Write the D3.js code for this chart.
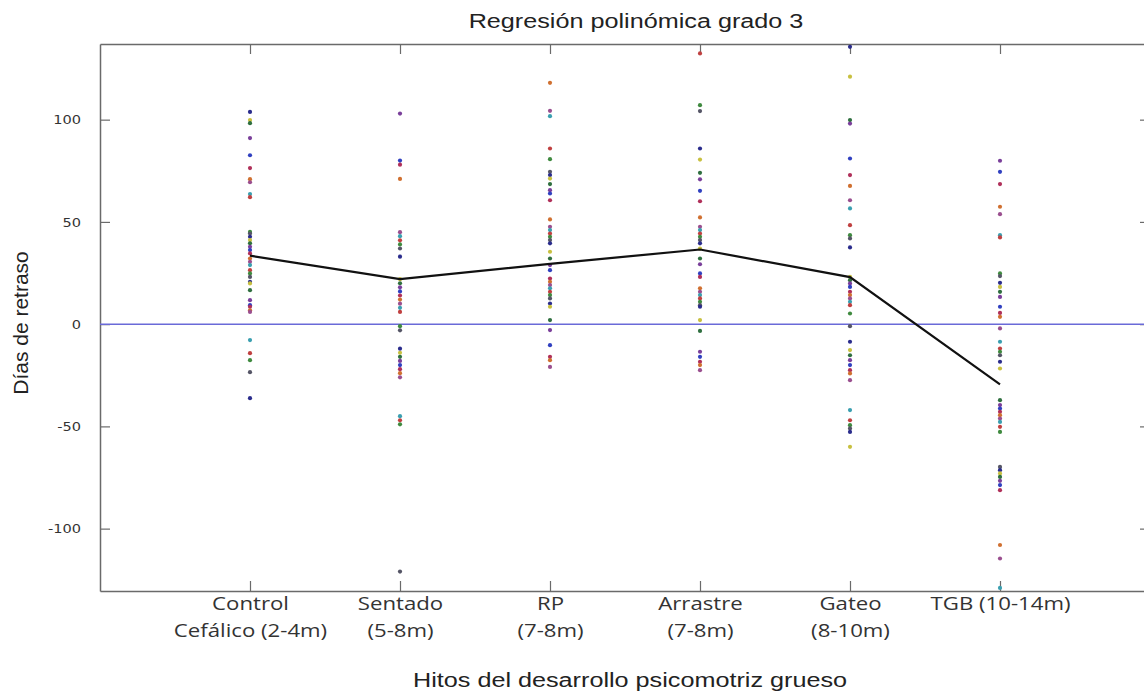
<!DOCTYPE html>
<html><head><meta charset="utf-8">
<script src="https://cdn.jsdelivr.net/npm/d3@7"></script>
<style>body{margin:0;background:#fff}svg{display:block}</style>
</head><body>
<svg id="chart" width="1144" height="696"></svg>
<script>
// ---- data ----
const categories = ["Control|Cefálico (2-4m)", "Sentado|(5-8m)", "RP|(7-8m)", "Arrastre|(7-8m)", "Gateo|(8-10m)", "TGB (10-14m)"];
const controlVals = [103.8,99.8,98.3,91,82.6,76.3,70.9,69.4,63.6,62.1,45.1,44.3,42.7,41.1,39.5,37.8,36.2,34.6,32.1,30.5,28.9,26.4,24.8,23.1,20.7,19.9,16.6,11.7,9.3,8.5,6.8,6.0,-7.8,-14.2,-17.6,-23.5,-36.2];
const sentadoVals = [103,80,78,71,45,43,41,39,37,33,22,20,18,16,14,12,10,8,6,-1,-3,-12,-14,-16,-18,-20,-22,-24,-26,-45,-47,-49,-121];
const rpVals = [118,104.3,101.7,85.9,80.7,74.5,72.9,71.2,68.5,65.5,63.9,60.6,51.2,47.6,46,44.3,42.7,41.1,39.5,35.4,32.1,28.9,26.4,22.3,20.7,19.1,17.5,15.8,14.2,12.6,10.1,8.5,2,-2.9,-10.3,-16,-17.6,-20.9];
const arrastreVals = [132.4,107.1,104.2,85.9,80.5,74,70.8,65.2,60.1,52.2,47.6,46,44.3,42.7,41.1,39.5,37,32.1,29.3,24.8,23.1,17.5,15.8,14.2,12.6,10.9,9.3,8.5,2,-3.3,-13.5,-16,-18.4,-20,-22.5];
const gateoVals = [135.6,121,99.8,98.1,81,72.9,67.6,60.6,56.6,48.4,43.5,41.9,37.5,23.1,21.5,19.9,18.2,15.8,14.2,12.6,10.9,9.3,5.2,-1,-8.6,-12.7,-15.2,-17.6,-20,-22.5,-24.1,-27.4,-42,-47,-49.4,-51,-52.7,-60];
const tgbVals = [79.9,74.5,68.5,57.4,53.8,43.5,42.4,24.8,23.5,20.2,18.2,15.8,13.3,8.5,5.5,3.6,-2.1,-8.6,-11.9,-13.5,-15.2,-18.4,-21.7,-37.2,-39.6,-41.3,-42.9,-44.5,-46.2,-47.8,-50.2,-52.7,-69.8,-71.4,-73,-74.7,-76.6,-78.7,-81.2,-108,-114.6,-129];
const seriesValues = [controlVals, sentadoVals, rpVals, arrastreVals, gateoVals, tgbVals];
const fitValues = [33.5, 22, 29.5, 36.5, 23, -29.5];
const yTicks = [-100, -50, 0, 50, 100];
const baselineValue = 0;
const title = "Regresión polinómica grado 3";
const xTitle = "Hitos del desarrollo psicomotriz grueso";
const yTitle = "Días de retraso";

// ---- styles ----
const palette = ["#2a2c8c","#b0305a","#3f8a3f","#7a3f9a","#3a9fb0","#c8c040","#d07030","#555566","#3040c0","#c04040","#2f6f3f","#9a4f8f"];
const stretch = 1.2;

const svg = d3.select("#chart");
const x = d3.scaleLinear().domain([0, 7]).range([100, 1150]);
const y = d3.scaleLinear().domain([-130.5, 137]).range([591, 44]);

// title
svg.append("text").attr("transform", `translate(636,28) scale(${stretch},1)`).attr("text-anchor", "middle")
  .style("font-family", "Liberation Sans, Arial, sans-serif").style("font-size", "21px").style("fill", "#222")
  .text(title);

const axisColor = "#6a6a6a";
const g = svg.append("g");

// y axis left
const yAxis = g.append("g").attr("transform", `translate(${x(0)},0)`)
  .call(d3.axisLeft(y).tickValues(yTicks).tickFormat(d => String(d)).tickSizeInner(-10).tickSizeOuter(0).tickPadding(18));
yAxis.select(".domain").attr("stroke", axisColor).attr("stroke-width", 1.5);
yAxis.selectAll(".tick line").attr("stroke", axisColor).attr("stroke-width", 1.2);
yAxis.selectAll(".tick text").attr("x", -19 / 1.12).attr("transform", "scale(1.12,1)")
  .style("font-family", "DejaVu Sans, Verdana, sans-serif").style("font-size", "13px").style("fill", "#333");

// y axis right (ticks only)
const yAxisR = g.append("g").attr("transform", `translate(${x(7)},0)`)
  .call(d3.axisRight(y).tickValues(yTicks).tickSizeInner(-10).tickSizeOuter(0).tickFormat(""));
yAxisR.select(".domain").attr("stroke", axisColor).attr("stroke-width", 1.5);
yAxisR.selectAll(".tick line").attr("stroke", axisColor).attr("stroke-width", 1.2);

// x axis top (ticks only)
const xAxisT = g.append("g").attr("transform", `translate(0,${y.range()[1]})`)
  .call(d3.axisTop(x).tickValues(d3.range(1, categories.length + 1)).tickSizeInner(-10).tickSizeOuter(0).tickFormat(""));
xAxisT.select(".domain").attr("stroke", axisColor).attr("stroke-width", 1.5);
xAxisT.selectAll(".tick line").attr("stroke", axisColor).attr("stroke-width", 1.2);

// x axis bottom
const xAxisB = g.append("g").attr("transform", `translate(0,${y.range()[0]})`)
  .call(d3.axisBottom(x).tickValues(d3.range(1, categories.length + 1)).tickSizeInner(-10).tickSizeOuter(0).tickFormat(""));
xAxisB.select(".domain").attr("stroke", axisColor).attr("stroke-width", 1.5);
xAxisB.selectAll(".tick line").attr("stroke", axisColor).attr("stroke-width", 1.2);
xAxisB.selectAll(".tick").each(function(d, i) {
  const lines = categories[i].split("|");
  const t = d3.select(this).append("text").attr("text-anchor", "middle").attr("transform", `scale(${stretch},1)`)
    .style("font-family", "Open Sans, sans-serif").style("font-size", "18.5px").style("fill", "#333");
  lines.forEach((ln, k) => t.append("tspan").attr("x", 0).attr("y", 19 + k * 27).text(ln));
});

// zero line
g.append("line").attr("x1", x(0)).attr("x2", x(7)).attr("y1", y(baselineValue)).attr("y2", y(baselineValue))
  .attr("stroke", "#6a6ad8").attr("stroke-width", 1.5);

// dots
seriesValues.forEach((vals, ci) => {
  g.append("g").selectAll("circle").data(vals).join("circle")
    .attr("cx", x(ci + 1)).attr("cy", d => y(d)).attr("r", 2.1)
    .attr("fill", (d, i) => palette[(i * 5 + ci * 3) % palette.length]);
});

// regression line
g.append("path").datum(fitValues)
  .attr("d", d3.line().x((d, i) => x(i + 1)).y(d => y(d)))
  .attr("fill", "none").attr("stroke", "#111").attr("stroke-width", 2.2);

// axis titles
svg.append("text").attr("transform", `translate(630,687) scale(${stretch},1)`).attr("text-anchor", "middle")
  .style("font-family", "Liberation Sans, Arial, sans-serif").style("font-size", "21px").style("fill", "#222")
  .text(xTitle);
svg.append("text").attr("transform", "translate(28,323) rotate(-90)").attr("text-anchor", "middle")
  .style("font-family", "Liberation Sans, Arial, sans-serif").style("font-size", "21px").style("fill", "#222")
  .text(yTitle);
</script>
</body></html>
